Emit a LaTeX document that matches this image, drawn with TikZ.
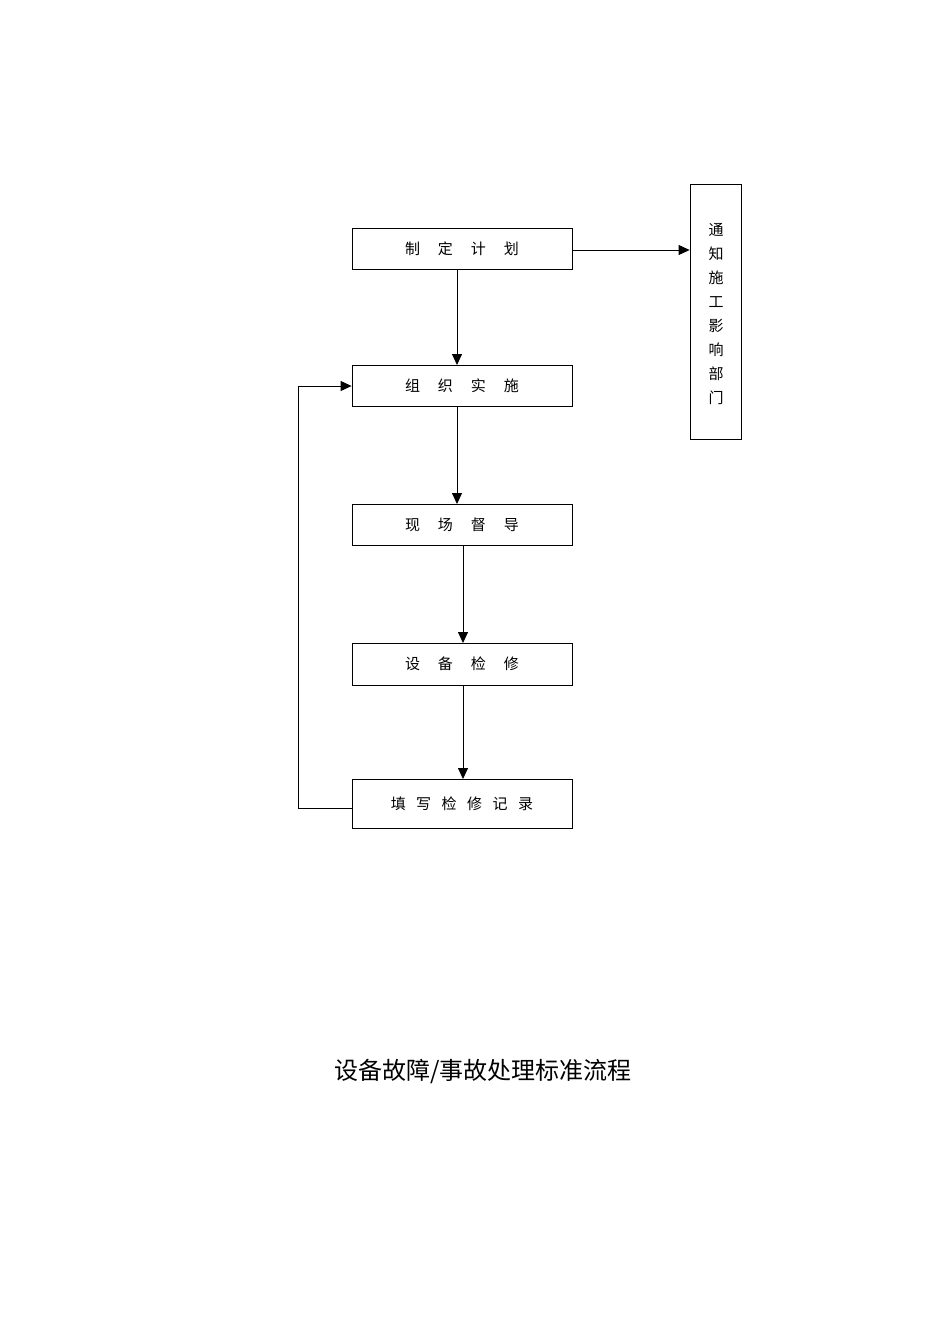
\documentclass[tikz,border=0pt]{standalone}
\usepackage{fontspec}
\newfontfamily\cjk{Noto Sans CJK SC}
\usetikzlibrary{arrows.meta}
\begin{document}
\begin{tikzpicture}[x=1pt,y=-1pt,
  box/.style={draw,line width=0.8pt,inner sep=0,font=\cjk\fontsize{15}{18}\selectfont},
  arr/.style={-{Triangle[length=11pt,width=10pt]},line width=0.8pt}]
\useasboundingbox (0,0) rectangle (950,1344);
\node[box,minimum width=220pt,minimum height=41pt] (a) at (462,248.5) {制\hspace{1.2em}定\hspace{1.2em}计\hspace{1.2em}划};
\node[box,minimum width=220pt,minimum height=41pt] (b) at (462,385.5) {组\hspace{1.2em}织\hspace{1.2em}实\hspace{1.2em}施};
\node[box,minimum width=220pt,minimum height=41pt] (c) at (462,524.5) {现\hspace{1.2em}场\hspace{1.2em}督\hspace{1.2em}导};
\node[box,minimum width=220pt,minimum height=42pt] (d) at (462,664) {设\hspace{1.2em}备\hspace{1.2em}检\hspace{1.2em}修};
\node[box,minimum width=220pt,minimum height=49pt] (e) at (462,803.5) {填\hspace{0.7em}写\hspace{0.7em}检\hspace{0.7em}修\hspace{0.7em}记\hspace{0.7em}录};
\node[box,minimum width=51pt,minimum height=255pt] (n) at (715.5,311.5) {};
\foreach \t [count=\i from 0] in {通,知,施,工,影,响,部,门}
  \node[font=\cjk\fontsize{15}{18}\selectfont] (n\i) at (716,230+24*\i) {\t};
\draw[arr] (457,269) -- (457,365);
\draw[arr] (457,406) -- (457,504);
\draw[arr] (463,545) -- (463,643);
\draw[arr] (463,685) -- (463,779);
\draw[arr] (a.east |- 0,250) -- (n.west |- 0,250);
\coordinate (p1) at (298,808);
\coordinate (p2) at (298,386);
\draw[arr] (e.west |- p1) -- (p1) -- (p2) -- (b.west |- p2);
\node[font=\cjk\fontsize{24}{28}\selectfont] (t) at (483,1072) {设备故障/事故处理标准流程};
\end{tikzpicture}
\end{document}
